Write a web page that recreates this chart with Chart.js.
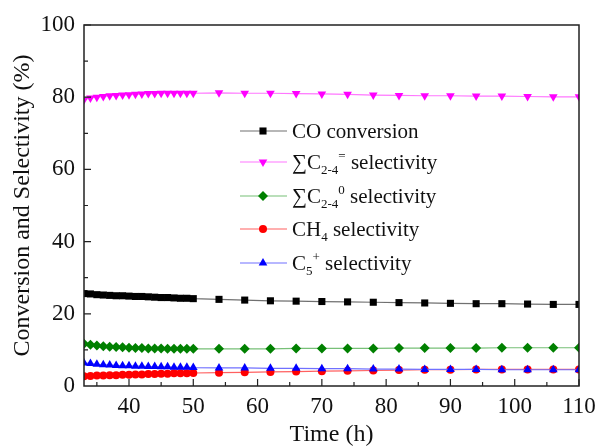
<!DOCTYPE html>
<html><head><meta charset="utf-8">
<script src="https://cdn.jsdelivr.net/npm/chart.js@4.4.1/dist/chart.umd.min.js"></script>
<style>html,body{margin:0;padding:0;background:#fff}#wrap{width:595px;height:448px;position:relative}</style>
</head><body><div id="wrap"><canvas id="c"></canvas></div>
<script>
// ---- data ----
const timeH = [33,34,35,36,37,38,39,40,41,42,43,44,45,46,47,48,49,50,54,58,62,66,70,74,78,82,86,90,94,98,102,106,110];
const coConversion = [25.6,25.5,25.3,25.2,25.1,25.0,25.0,24.9,24.8,24.8,24.7,24.6,24.5,24.5,24.4,24.3,24.3,24.2,24.0,23.8,23.6,23.5,23.4,23.3,23.2,23.1,23.0,22.9,22.8,22.8,22.7,22.6,22.6];
const olefinSel = [79.3,79.8,80.0,80.2,80.4,80.5,80.6,80.7,80.8,80.9,81.0,81.0,81.1,81.1,81.1,81.1,81.1,81.1,81.2,81.1,81.1,81.0,80.9,80.8,80.6,80.5,80.4,80.4,80.3,80.3,80.2,80.1,80.1];
const paraffinSel = [11.7,11.4,11.2,11.0,10.9,10.8,10.7,10.6,10.5,10.5,10.4,10.4,10.4,10.3,10.3,10.3,10.3,10.3,10.3,10.3,10.3,10.4,10.4,10.4,10.4,10.5,10.5,10.5,10.5,10.6,10.6,10.6,10.6];
const ch4Sel = [2.7,2.8,2.9,2.9,3.0,3.0,3.1,3.1,3.2,3.2,3.3,3.3,3.4,3.4,3.5,3.5,3.5,3.6,3.7,3.8,3.9,4.0,4.1,4.2,4.3,4.4,4.5,4.5,4.6,4.6,4.6,4.6,4.6];
const c5Sel = [6.4,6.2,6.0,5.9,5.8,5.7,5.6,5.6,5.5,5.5,5.4,5.4,5.3,5.3,5.2,5.2,5.2,5.1,5.0,5.0,4.9,4.9,4.8,4.8,4.7,4.7,4.6,4.6,4.6,4.5,4.5,4.5,4.5];
const xTickValues = [40,50,60,70,80,90,100,110];
const yTickValues = [0,20,40,60,80,100];
const seriesLabels = ['CO conversion','∑C2-4= selectivity','∑C2-40 selectivity','CH4 selectivity','C5+ selectivity'];
// rich legend text parts: [text, kind] kind: n=normal, b=subscript, p=superscript
const legendParts = [
  [['CO conversion','n']],
  [['∑C','n'],['2-4','b'],['=','p'],[' selectivity','n']],
  [['∑C','n'],['2-4','b'],['0','p'],[' selectivity','n']],
  [['CH','n'],['4','b'],[' selectivity','n']],
  [['C','n'],['5','b'],['+','p'],[' selectivity','n']]
];

const FONT = '"Liberation Serif","Times New Roman",serif';
const pts = arr => timeH.map((t,i)=>({x:t,y:arr[i]}));

const styles = [
  {c:'#000000', l:'#707070', ps:'rect', r:5, rot:0},
  {c:'#ff00ff', l:'#ff77ff', ps:'triangle', r:5, rot:180},
  {c:'#008000', l:'#77c077', ps:'rectRot', r:5, rot:0},
  {c:'#ff0000', l:'#ff6060', ps:'circle', r:4, rot:0},
  {c:'#0000ff', l:'#7070ff', ps:'triangle', r:5, rot:0}
];
const seriesData = [coConversion, olefinSel, paraffinSel, ch4Sel, c5Sel];
const drawOrder = [4,3,2,1,0];

const datasets = seriesData.map((d,i)=>({
  label: seriesLabels[i],
  data: pts(d),
  borderColor: styles[i].l,
  backgroundColor: styles[i].c,
  pointBackgroundColor: styles[i].c,
  pointBorderColor: styles[i].c,
  pointBorderWidth: 0,
  pointStyle: styles[i].ps,
  pointRadius: styles[i].r,
  pointRotation: styles[i].rot,
  borderWidth: 1.2,
  tension: 0,
  order: drawOrder[i]
}));

const framePlugin = {
  id:'frame',
  afterDatasetsDraw(chart){
    const {ctx, chartArea:a, scales:{x,y}} = chart;
    ctx.save();
    ctx.strokeStyle = '#222';
    ctx.lineWidth = 1.5;
    ctx.strokeRect(a.left, a.top, a.right-a.left, a.bottom-a.top);
    ctx.lineWidth = 1.2;
    ctx.beginPath();
    for (let v = 35; v <= 110; v += 5) {
      const px = x.getPixelForValue(v);
      const len = (v % 10 === 0) ? 7 : 4;
      ctx.moveTo(px, a.bottom); ctx.lineTo(px, a.bottom - len);
    }
    for (let v = 10; v <= 100; v += 10) {
      const py = y.getPixelForValue(v);
      const len = (v % 20 === 0) ? 7 : 4;
      ctx.moveTo(a.left, py); ctx.lineTo(a.left + len, py);
    }
    ctx.stroke();
    // legend
    const lx0 = 240, lx1 = 287, mx = 263, tx = 292;
    const rows = [131, 162, 196, 229, 263];
    legendParts.forEach((parts,i)=>{
      const yy = rows[i];
      ctx.strokeStyle = styles[i].l;
      ctx.lineWidth = 1.2;
      ctx.beginPath(); ctx.moveTo(lx0, yy); ctx.lineTo(lx1, yy); ctx.stroke();
      ctx.fillStyle = styles[i].c; ctx.strokeStyle = styles[i].c; ctx.lineWidth = 0;
      Chart.helpers.drawPoint(ctx, {pointStyle: styles[i].ps, radius: styles[i].r, rotation: styles[i].rot, borderWidth:0}, mx, yy);
      let cx = tx;
      ctx.fillStyle = '#111';
      ctx.textBaseline = 'alphabetic';
      ctx.textAlign = 'left';
      const base = yy + 7;
      parts.forEach(([t,k])=>{
        let size = 21, dy = 0;
        if (k === 'b') { size = 13; dy = 5; }
        if (k === 'p') { size = 13; dy = -9; }
        ctx.font = size + 'px ' + FONT;
        ctx.fillText(t, cx, base + dy);
        cx += ctx.measureText(t).width;
      });
    });
    ctx.restore();
  }
};

new Chart(document.getElementById('c'), {
  type:'line',
  data:{datasets},
  options:{
    responsive:true, maintainAspectRatio:false, animation:false,
    devicePixelRatio:1,
    layout:{padding:{left:0, top:25, right:16, bottom:0}},
    plugins:{legend:{display:false}, tooltip:{enabled:false}},
    scales:{
      x:{
        type:'linear', min:33, max:110,
        afterBuildTicks(s){ s.ticks = xTickValues.map(v=>({value:v})); },
        afterFit(s){ s.height = 62; s.paddingLeft = 0; s.paddingRight = 0; },
        grid:{display:false, drawTicks:false},
        border:{display:false},
        ticks:{color:'#111', padding:9, maxRotation:0, font:{family:FONT, size:23, lineHeight:1}},
        title:{display:true, text:'Time (h)', color:'#111', padding:{top:0,bottom:1}, font:{family:FONT, size:24, lineHeight:1}}
      },
      y:{
        min:0, max:100,
        afterBuildTicks(s){ s.ticks = yTickValues.map(v=>({value:v})); },
        afterFit(s){ s.width = 84; s.paddingTop = 0; s.paddingBottom = 0; },
        grid:{display:false, drawTicks:false},
        border:{display:false},
        ticks:{color:'#111', padding:9, font:{family:FONT, size:23, lineHeight:1}},
        title:{display:true, text:'Conversion and Selectivity (%)', color:'#111', padding:{top:11,bottom:0}, font:{family:FONT, size:24, lineHeight:1}}
      }
    }
  },
  plugins:[framePlugin]
});
</script></body></html>
